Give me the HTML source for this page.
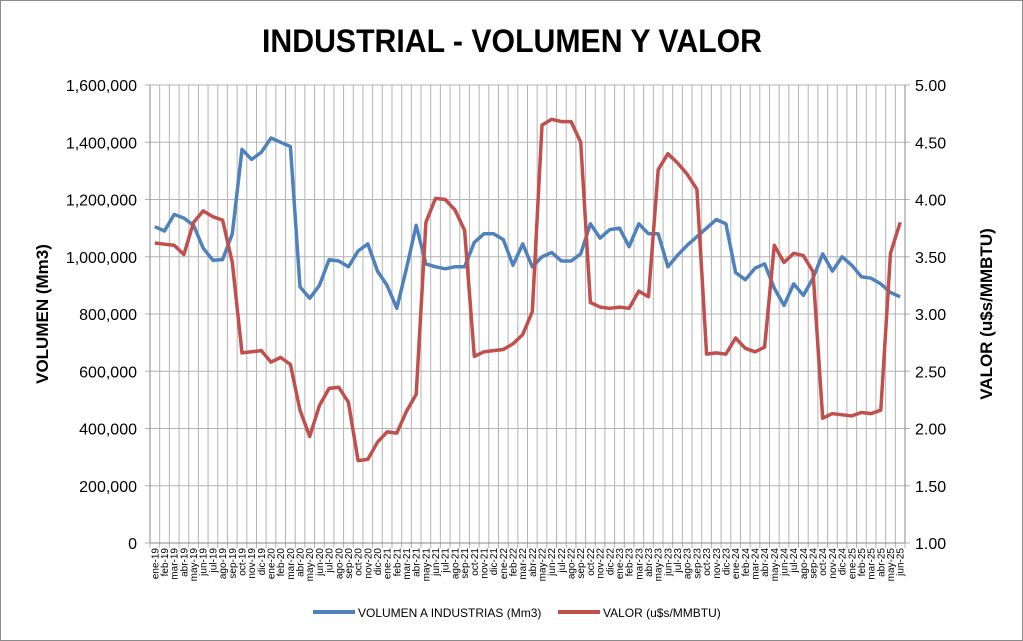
<!DOCTYPE html>
<html><head><meta charset="utf-8"><style>
html,body{margin:0;padding:0;background:#fff}
svg{display:block;font-family:"Liberation Sans",Arial,sans-serif}
</style></head><body>
<svg id="s" width="1023" height="641" viewBox="0 0 1023 641" xmlns="http://www.w3.org/2000/svg">
<rect x="0.5" y="0.5" width="1022" height="640" fill="#fff" stroke="#8c8c8c"/>
<text x="262" y="52" textLength="500" lengthAdjust="spacingAndGlyphs" font-size="32" font-weight="bold" fill="#000">INDUSTRIAL - VOLUMEN Y VALOR</text>
<g id="g"></g>
<text transform="translate(48,314) rotate(-90)" text-anchor="middle" font-size="17" font-weight="bold">VOLUMEN (Mm3)</text>
<text transform="translate(992,314) rotate(-90)" text-anchor="middle" font-size="17" font-weight="bold">VALOR (u$s/MMBTU)</text>
<line x1="313" y1="612" x2="355" y2="612" stroke="#4f81bd" stroke-width="4"/>
<text x="358" y="617" font-size="12">VOLUMEN A INDUSTRIAS (Mm3)</text>
<line x1="558" y1="612" x2="600" y2="612" stroke="#c0504d" stroke-width="4"/>
<text x="603" y="617" font-size="12">VALOR (u$s/MMBTU)</text>
</svg>
<script>
var L=150,R=905,T=85,B=543,N=78,w=(R-L)/N;
var ms=["ene","feb","mar","abr","may","jun","jul","ago","sep","oct","nov","dic"];
var vol=[1105,1090,1148,1135,1110,1030,988,990,1080,1375,1340,1365,1415,1400,1385,895,855,900,990,985,965,1020,1045,950,900,820,960,1110,975,965,958,965,965,1050,1080,1080,1060,970,1045,965,1000,1015,985,985,1010,1115,1065,1095,1100,1035,1115,1080,1080,965,1005,1040,1070,1100,1130,1115,945,920,960,975,890,830,905,865,925,1010,950,1000,970,930,925,905,875,860];
var val=[3.62,3.61,3.60,3.52,3.80,3.90,3.85,3.82,3.45,2.66,2.67,2.68,2.58,2.62,2.56,2.16,1.93,2.20,2.35,2.36,2.23,1.72,1.73,1.88,1.97,1.96,2.15,2.30,3.80,4.01,4.00,3.91,3.73,2.63,2.67,2.68,2.69,2.74,2.82,3.02,4.65,4.70,4.68,4.68,4.50,3.10,3.06,3.05,3.06,3.05,3.20,3.15,4.26,4.40,4.32,4.22,4.09,2.65,2.66,2.65,2.79,2.70,2.67,2.71,3.60,3.45,3.53,3.51,3.37,2.09,2.13,2.12,2.11,2.14,2.13,2.16,3.53,3.80];
var h="";
for(var i=0;i<=N;i++){var x=L+i*w;h+='<line x1="'+x+'" y1="'+T+'" x2="'+x+'" y2="'+(B+5)+'" stroke="#b3b3b3" stroke-width="1"/>';}
for(var k=0;k<=8;k++){var y=B-k*(B-T)/8;h+='<line x1="'+(L-5)+'" y1="'+y+'" x2="'+(R+5)+'" y2="'+y+'" stroke="#b3b3b3"/>';
h+='<text x="137" y="'+(y+6)+'" text-anchor="end" font-size="16">'+(k==0?"0":(k*200000).toLocaleString("en-US"))+'</text>';
h+='<text x="915" y="'+(y+6)+'" font-size="16">'+(1+k*0.5).toFixed(2)+'</text>';}
h+='<line x1="'+L+'" y1="'+T+'" x2="'+L+'" y2="'+B+'" stroke="#888"/><line x1="'+R+'" y1="'+T+'" x2="'+R+'" y2="'+B+'" stroke="#888"/><line x1="'+L+'" y1="'+B+'" x2="'+R+'" y2="'+B+'" stroke="#888"/>';
for(var i=0;i<N;i++){var x=L+(i+0.5)*w+3.5;var lab=ms[i%12]+"-"+(19+Math.floor(i/12));
h+='<text transform="translate('+x+',548) rotate(-90)" text-anchor="end" font-size="10">'+lab+'</text>';}
var p1="",p2="";
for(var i=0;i<N;i++){var x=L+(i+0.5)*w;p1+=(i?"L":"M")+x.toFixed(1)+","+(B-vol[i]*1000/1600000*(B-T)).toFixed(1);
p2+=(i?"L":"M")+x.toFixed(1)+","+(B-(val[i]-1)/4*(B-T)).toFixed(1);}
h+='<path d="'+p1+'" fill="none" stroke="#4f81bd" stroke-width="3.5" stroke-linejoin="round"/>';
h+='<path d="'+p2+'" fill="none" stroke="#c0504d" stroke-width="3.5" stroke-linejoin="round"/>';
document.getElementById("g").innerHTML=h;
</script>
</body></html>
